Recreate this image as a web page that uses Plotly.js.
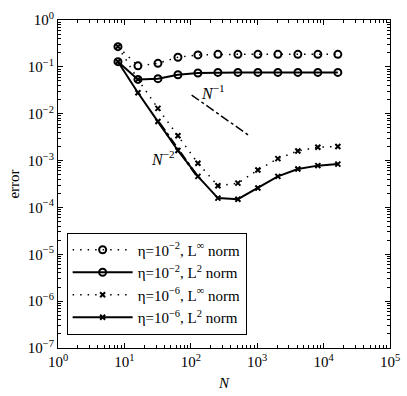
<!DOCTYPE html>
<html>
<head>
<meta charset="utf-8">
<script src="https://cdn.plot.ly/plotly-3.0.1.min.js"></script>
<style>
  html, body { margin: 0; padding: 0; background: #fff; }
  #myDiv { width: 407px; height: 396px; }
</style>
</head>
<body>
<div id="myDiv"></div>
<script>
// Numero de puntos N y errores
const nPoints = [8, 16, 32, 64, 128, 256, 512, 1024, 2048, 4096, 8192, 16384];
const eta2Linf = [0.27, 0.105, 0.119, 0.16, 0.18, 0.185, 0.185, 0.185, 0.185, 0.185, 0.185, 0.185];
const eta2L2 = [0.129, 0.054, 0.056, 0.068, 0.074, 0.076, 0.076, 0.076, 0.076, 0.076, 0.076, 0.076];
const eta6Linf = [0.27, 0.054, 0.013, 0.0034, 0.00088, 0.00029, 0.00033, 0.00063, 0.0011, 0.0016, 0.00193, 0.002];
const eta6L2 = [0.129, 0.028, 0.0068, 0.00164, 0.00046, 0.000158, 0.00015, 0.00026, 0.00046, 0.00066, 0.00078, 0.00084];

// Rectas de referencia N^-1 y N^-2
const refN1x = [103, 735];
const refN1y = [0.025, 0.0035];
const refN2x = [34, 128];
const refN2y = [0.0062, 0.00044];

// Etiquetas de los ejes
const xTickVals = [1, 10, 100, 1000, 10000, 100000];
const xTickText = ["10<sup>0</sup>", "10<sup>1</sup>", "10<sup>2</sup>", "10<sup>3</sup>", "10<sup>4</sup>", "10<sup>5</sup>"];
const yTickVals = [1e-7, 1e-6, 1e-5, 1e-4, 1e-3, 1e-2, 1e-1, 1];
const yTickText = ["10<sup>−7</sup>", "10<sup>−6</sup>", "10<sup>−5</sup>", "10<sup>−4</sup>", "10<sup>−3</sup>", "10<sup>−2</sup>", "10<sup>−1</sup>", "10<sup>0</sup>"];

const seriesNames = [
  "η=10<sup>−2</sup>, L<sup>∞</sup> norm",
  "η=10<sup>−2</sup>, L<sup>2</sup> norm",
  "η=10<sup>−6</sup>, L<sup>∞</sup> norm",
  "η=10<sup>−6</sup>, L<sup>2</sup> norm",
];

// Marcas menores del eje logaritmico (2..9 por decada)
function minorTicks(lo, hi) {
  const out = [];
  for (let p = lo; p < hi; p++) {
    for (let k = 2; k <= 9; k++) out.push(k * Math.pow(10, p));
  }
  return out;
}

const dotDash = "1.5px,6px";
const circle = { symbol: "circle-open", size: 7, color: "#000", line: { width: 2, color: "#000" } };
const cross = { symbol: "x-thin-open", size: 5, color: "#000", line: { width: 2, color: "#000" } };

const traces = [
  {
    x: refN2x, y: refN2y, mode: "lines", showlegend: false, hoverinfo: "skip",
    line: { color: "#000", width: 2.5, dash: "dashdot" },
  },
  {
    x: refN1x, y: refN1y, mode: "lines", showlegend: false, hoverinfo: "skip",
    line: { color: "#000", width: 1.5, dash: "dashdot" },
  },
  {
    x: nPoints, y: eta2Linf, name: seriesNames[0], mode: "lines+markers",
    line: { color: "#000", width: 1.5, dash: dotDash }, marker: circle,
  },
  {
    x: nPoints, y: eta2L2, name: seriesNames[1], mode: "lines+markers",
    line: { color: "#000", width: 2 }, marker: circle,
  },
  {
    x: nPoints, y: eta6Linf, name: seriesNames[2], mode: "lines+markers",
    line: { color: "#000", width: 1.5, dash: dotDash }, marker: cross,
  },
  {
    x: nPoints, y: eta6L2, name: seriesNames[3], mode: "lines+markers",
    line: { color: "#000", width: 2 }, marker: cross,
  },
];

const axisCommon = {
  type: "log",
  showgrid: false,
  zeroline: false,
  showline: true,
  linecolor: "#000",
  linewidth: 1,
  mirror: "allticks",
  ticks: "inside",
  ticklen: 5,
  tickcolor: "#000",
  tickmode: "array",
  tickfont: { family: "Liberation Serif", size: 15, color: "#000" },
};

const layout = {
  width: 407,
  height: 396,
  margin: { l: 58, r: 17, t: 20, b: 48 },
  paper_bgcolor: "#fff",
  plot_bgcolor: "#fff",
  font: { family: "Liberation Serif", size: 15, color: "#000" },
  xaxis: Object.assign({}, axisCommon, {
    range: [0, 5],
    tickvals: xTickVals,
    ticktext: xTickText,
    minor: { tickmode: "array", tickvals: minorTicks(0, 5), ticks: "inside", ticklen: 3, tickcolor: "#000" },
    title: { text: "<i>N</i>", font: { family: "Liberation Serif", size: 15, color: "#000" }, standoff: 8 },
  }),
  yaxis: Object.assign({}, axisCommon, {
    range: [-7, 0],
    tickvals: yTickVals,
    ticktext: yTickText,
    minor: { tickmode: "array", tickvals: minorTicks(-7, 0), ticks: "inside", ticklen: 3, tickcolor: "#000" },
    title: { text: "error", font: { family: "Liberation Serif", size: 15, color: "#000" }, standoff: 4 },
  }),
  legend: {
    x: 0.026, y: 0.352, xanchor: "left", yanchor: "top",
    bgcolor: "#fff", bordercolor: "#000", borderwidth: 1,
    itemwidth: 60,
    font: { family: "Liberation Serif", size: 15, color: "#000" },
    tracegroupgap: 0,
  },
  annotations: [
    {
      x: Math.log10(215), y: -1.53, xref: "x", yref: "y",
      text: "<i>N</i><sup>−1</sup>", showarrow: false,
      font: { family: "Liberation Serif", size: 16, color: "#000" },
    },
    {
      x: Math.log10(38), y: -2.94, xref: "x", yref: "y",
      text: "<i>N</i><sup>−2</sup>", showarrow: false,
      font: { family: "Liberation Serif", size: 16, color: "#000" },
    },
  ],
  showlegend: true,
};

Plotly.newPlot("myDiv", traces, layout, { displayModeBar: false, staticPlot: true });
</script>
</body>
</html>
